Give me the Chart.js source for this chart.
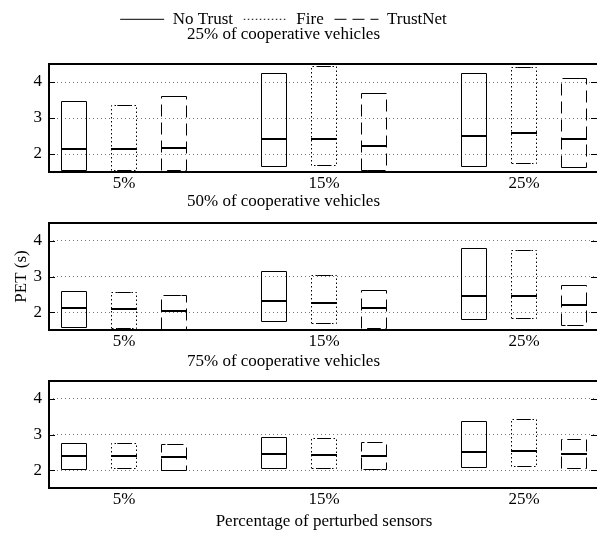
<!DOCTYPE html>
<html><head><meta charset="utf-8">
<script src="https://cdn.jsdelivr.net/npm/chart.js@4.4.1/dist/chart.umd.min.js"></script>
<style>
html,body{margin:0;padding:0;background:#fff;overflow:hidden;width:597px;height:534px;position:relative}
.wrap{position:absolute;left:-32px;width:631px}
canvas{display:block}
</style></head><body>
<div class="wrap" style="top:0;height:190px"><canvas id="c1" width="631" height="190"></canvas></div>
<div class="wrap" style="top:190px;height:160px"><canvas id="c2" width="631" height="160"></canvas></div>
<div class="wrap" style="top:350px;height:184px"><canvas id="c3" width="631" height="184"></canvas></div>
<script>
// ---- data ----
const categories = ['5%', '15%', '25%'];
const categoryPositions = [1, 2, 3];
const yTicks = [2, 3, 4];
const seriesNames = ['No Trust', 'Fire', 'TrustNet'];
const panelTitles = ['25% of cooperative vehicles', '50% of cooperative vehicles', '75% of cooperative vehicles'];
const xAxisTitle = 'Percentage of perturbed sensors';
const yAxisTitle = 'PET (s)';
// each row: [min, median, max] for 5%, 15%, 25%
const noTrust25 = [[1.55, 2.15, 3.47], [1.66, 2.41, 4.25], [1.66, 2.49, 4.23]];
const fire25 = [[1.55, 2.14, 3.35], [1.69, 2.43, 4.42], [1.73, 2.58, 4.40]];
const trustNet25 = [[1.55, 2.17, 3.60], [1.54, 2.21, 3.69], [1.63, 2.42, 4.10]];
const noTrust50 = [[1.58, 2.11, 2.57], [1.75, 2.31, 3.13], [1.79, 2.46, 3.79]];
const fire50 = [[1.55, 2.09, 2.55], [1.69, 2.27, 3.02], [1.82, 2.46, 3.74]];
const trustNet50 = [[1.52, 2.03, 2.46], [1.54, 2.11, 2.60], [1.63, 2.20, 2.75]];
const noTrust75 = [[2.03, 2.40, 2.75], [2.05, 2.44, 2.92], [2.08, 2.52, 3.36]];
const fire75 = [[2.05, 2.39, 2.75], [2.05, 2.42, 2.88], [2.10, 2.55, 3.42]];
const trustNet75 = [[2.00, 2.38, 2.72], [2.03, 2.40, 2.78], [2.05, 2.44, 2.87]];

// ---- styles ----
const seriesDash = [[], [1.5, 2.5], [12, 6]];
const FONT = { family: "'Liberation Serif', 'Times New Roman', serif", size: 17, weight: 'normal' };

const boxPlugin = {
  id: 'boxes',
  afterDatasetsDraw(chart) {
    const ctx = chart.ctx, ys = chart.scales.y;
    const h = v => Math.round(v - 0.5) + 0.5;
    chart.data.datasets.forEach((ds, di) => {
      chart.getDatasetMeta(di).data.forEach((bar, i) => {
        const p = bar.getProps(['x', 'y', 'base', 'width'], true);
        const l = h(p.x - p.width / 2), r = h(p.x + p.width / 2);
        const t = h(Math.min(p.y, p.base)), b = h(Math.max(p.y, p.base));
        ctx.save();
        ctx.strokeStyle = '#000';
        ctx.lineWidth = 1;
        ctx.setLineDash(ds.boxDash);
        ctx.beginPath();
        ctx.moveTo(l, b); ctx.lineTo(l, t); ctx.lineTo(r, t); ctx.lineTo(r, b); ctx.closePath();
        ctx.stroke();
        ctx.setLineDash([]);
        const cw = p.width * 0.27;
        ctx.beginPath();
        ctx.moveTo(p.x - cw, t); ctx.lineTo(p.x + cw, t);
        ctx.moveTo(p.x - cw, b); ctx.lineTo(p.x + cw, b);
        ctx.stroke();
        const m = Math.round(ys.getPixelForValue(ds.medians[i]));
        ctx.lineWidth = 2;
        ctx.beginPath(); ctx.moveTo(l - 0.5, m); ctx.lineTo(r + 0.5, m); ctx.stroke();
        ctx.restore();
      });
    });
  }
};

const framePlugin = {
  id: 'frame',
  afterDraw(chart) {
    const { ctx, chartArea: a } = chart;
    const ys = chart.scales.y;
    ctx.save();
    ctx.strokeStyle = '#000';
    ctx.lineWidth = 2;
    ctx.strokeRect(a.left, a.top, a.right - a.left, a.bottom - a.top);
    ctx.lineWidth = 1;
    ctx.beginPath();
    ys.ticks.forEach(t => {
      const y = Math.round(ys.getPixelForValue(t.value)) + 0.5;
      ctx.moveTo(a.left, y); ctx.lineTo(a.left + 6, y);
      ctx.moveTo(a.right - 8, y); ctx.lineTo(a.right, y);
    });
    ctx.stroke();
    ctx.restore();
  }
};

function makeChart(id, panelSeries, title, o) {
  return new Chart(document.getElementById(id), {
    type: 'bar',
    data: {
      datasets: panelSeries.map((rows, s) => ({
        label: seriesNames[s],
        data: rows.map((r, i) => ({ x: categoryPositions[i], y: [r[0], r[2]] })),
        medians: rows.map(r => r[1]),
        boxDash: seriesDash[s],
        backgroundColor: 'rgba(0,0,0,0)',
        borderWidth: 0,
        categoryPercentage: 0.75,
        barPercentage: 0.5
      }))
    },
    options: {
      responsive: false,
      animation: false,
      devicePixelRatio: 1,
      events: [],
      layout: { padding: 0 },
      plugins: {
        legend: o.legend ? {
          display: true, position: 'top', weight: 3000, maxHeight: 24,
          labels: {
            usePointStyle: true, pointStyleWidth: 44, padding: 10.8, color: '#000', font: FONT,
            generateLabels: (chart) => chart.data.datasets.map((ds, i) => ({
              text: ds.label, fillStyle: 'rgba(0,0,0,0)', strokeStyle: '#000', lineWidth: 1,
              lineDash: ds.boxDash, pointStyle: 'line', hidden: false, datasetIndex: i, fontColor: '#000'
            }))
          }
        } : { display: false },
        title: { display: true, text: title, color: '#000', font: FONT, padding: o.titlePad },
        tooltip: { enabled: false }
      },
      scales: {
        x: {
          type: 'linear', min: 0.625, max: 3.375, offset: false,
          grid: { display: false, drawTicks: false }, border: { display: false },
          afterBuildTicks: s => { s.ticks = categoryPositions.map(v => ({ value: v })); },
          afterFit: s => { s.height = o.xh; },
          ticks: { callback: (v, i) => categories[i], color: '#000', padding: 1.5, maxRotation: 0, autoSkip: false, font: FONT },
          title: o.xTitle ? { display: true, text: xAxisTitle, color: '#000', font: FONT, padding: { top: 0, bottom: 2.5 } } : { display: false }
        },
        y: {
          min: 1.5, max: 4.5,
          afterBuildTicks: s => { s.ticks = yTicks.map(v => ({ value: v })); },
          afterFit: s => { s.width = 81; },
          grid: { color: '#777', lineWidth: 1, drawTicks: false },
          border: { display: false, dash: [1, 3] },
          ticks: { color: '#000', padding: 7, font: FONT },
          title: o.yTitle ? { display: true, text: yAxisTitle, color: '#000', font: FONT, padding: { top: 43.3, bottom: 0 } } : { display: false }
        }
      }
    },
    plugins: [boxPlugin, framePlugin]
  });
}

makeChart('c1', [noTrust25, fire25, trustNet25], panelTitles[0], { legend: true, titlePad: { top: 0, bottom: 19.6 }, xh: 18 });
makeChart('c2', [noTrust50, fire50, trustNet50], panelTitles[1], { yTitle: true, titlePad: { top: 1.1, bottom: 11.5 }, xh: 20 });
makeChart('c3', [noTrust75, fire75, trustNet75], panelTitles[2], { xTitle: true, titlePad: { top: 1.1, bottom: 9.5 }, xh: 46 });
</script>
</body></html>
